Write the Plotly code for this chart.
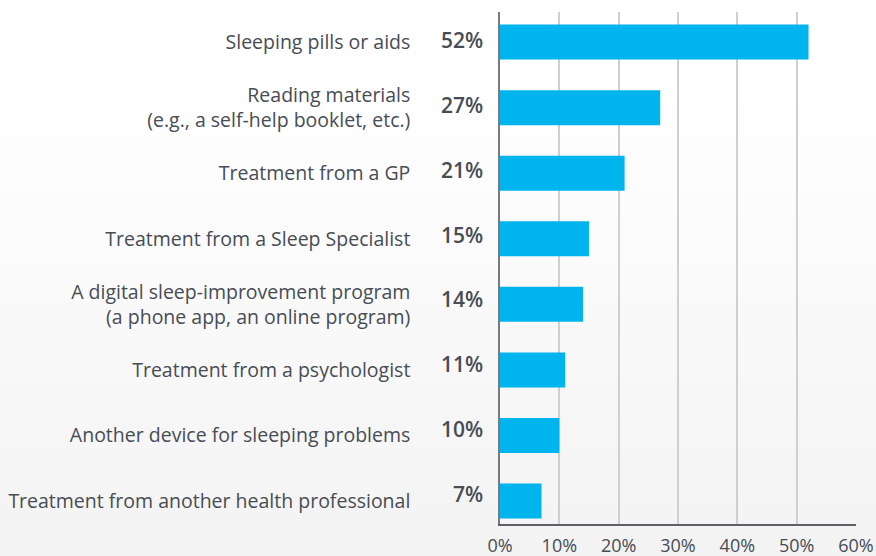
import plotly.graph_objects as go

# Survey: treatments people have tried for their sleep problems
categories = [
    "Sleeping pills or aids",
    "Reading materials<br>(e.g., a self-help booklet, etc.)",
    "Treatment from a GP",
    "Treatment from a Sleep Specialist",
    "A digital sleep-improvement program<br>(a phone app, an online program)",
    "Treatment from a psychologist",
    "Another device for sleeping problems",
    "Treatment from another health professional",
]
shares = [52, 27, 21, 15, 14, 11, 10, 7]
x_ticks = [0, 10, 20, 30, 40, 50, 60]

BAR = "#00b4ee"
TEXT = "#474c55"
FONT = "Open Sans"

W, H = 876, 556
ML, MR, MT, MB = 500, 20, 12, 32
plot_w = W - ML - MR
plot_h = H - MT - MB

fig = go.Figure()
fig.add_trace(go.Bar(
    x=shares,
    y=list(range(len(categories))),
    orientation="h",
    marker=dict(color=BAR, line=dict(width=0)),
    hoverinfo="skip",
))

# soft vertical background gradient (white at top, light grey at bottom)
shapes = []
n = 48
y_lo = -MB / plot_h
y_hi = 1 + MT / plot_h
for k in range(n):
    t0 = k / n
    t1 = (k + 1) / n
    frac = 1 - (t0 + t1) / 2  # 0 at top, 1 at bottom
    g = 255 - round(12 * max(0.0, (frac - 0.15) / 0.85))
    shapes.append(dict(
        type="rect", xref="paper", yref="paper", layer="below",
        x0=-ML / plot_w - 0.01, x1=1 + MR / plot_w + 0.01,
        y0=y_lo + (y_hi - y_lo) * t0, y1=y_lo + (y_hi - y_lo) * t1 + 0.002,
        fillcolor=f"rgb({g},{g},{g})", line=dict(width=0),
    ))

# percentage labels beside the axis
annotations = []
for i, v in enumerate(shares):
    annotations.append(dict(
        x=-15 / plot_w, xref="paper", xanchor="right",
        y=i, yref="y2", yanchor="middle",
        text=f"{v}%", showarrow=False,
        font=dict(family=FONT, size=21, color=TEXT, weight=600),
    ))

fig.update_layout(
    width=W, height=H,
    margin=dict(l=ML, r=MR, t=MT, b=MB, autoexpand=False),
    paper_bgcolor="white",
    plot_bgcolor="rgba(0,0,0,0)",
    showlegend=False,
    bargap=0.466,
    shapes=shapes,
    annotations=annotations,
    xaxis=dict(
        range=[0, 60], tickvals=x_ticks, ticktext=[f"{t}%" for t in x_ticks],
        showgrid=True, gridcolor="#cfcfcf", gridwidth=1.5,
        showline=True, linecolor="#5e6168", linewidth=1.5,
        zeroline=False, ticks="", ticklabelstandoff=5,
        tickfont=dict(family=FONT, size=18, color=TEXT, weight=500),
        automargin=False, fixedrange=True,
    ),
    yaxis=dict(
        range=[7.35, -0.459],
        tickvals=list(range(len(categories))), ticktext=categories,
        showgrid=False, zeroline=False,
        showline=True, linecolor="#777a80", linewidth=1.5,
        ticks="", ticklabelstandoff=84,
        tickfont=dict(family=FONT, size=19.5, color=TEXT, weight=500),
        automargin=False, fixedrange=True,
    ),
    yaxis2=dict(
        overlaying="y", range=[7.462, -0.432],
        showticklabels=False, showgrid=False, zeroline=False, showline=False,
        automargin=False, fixedrange=True,
    ),
)

fig.write_html("out.html", config={"displayModeBar": False})
